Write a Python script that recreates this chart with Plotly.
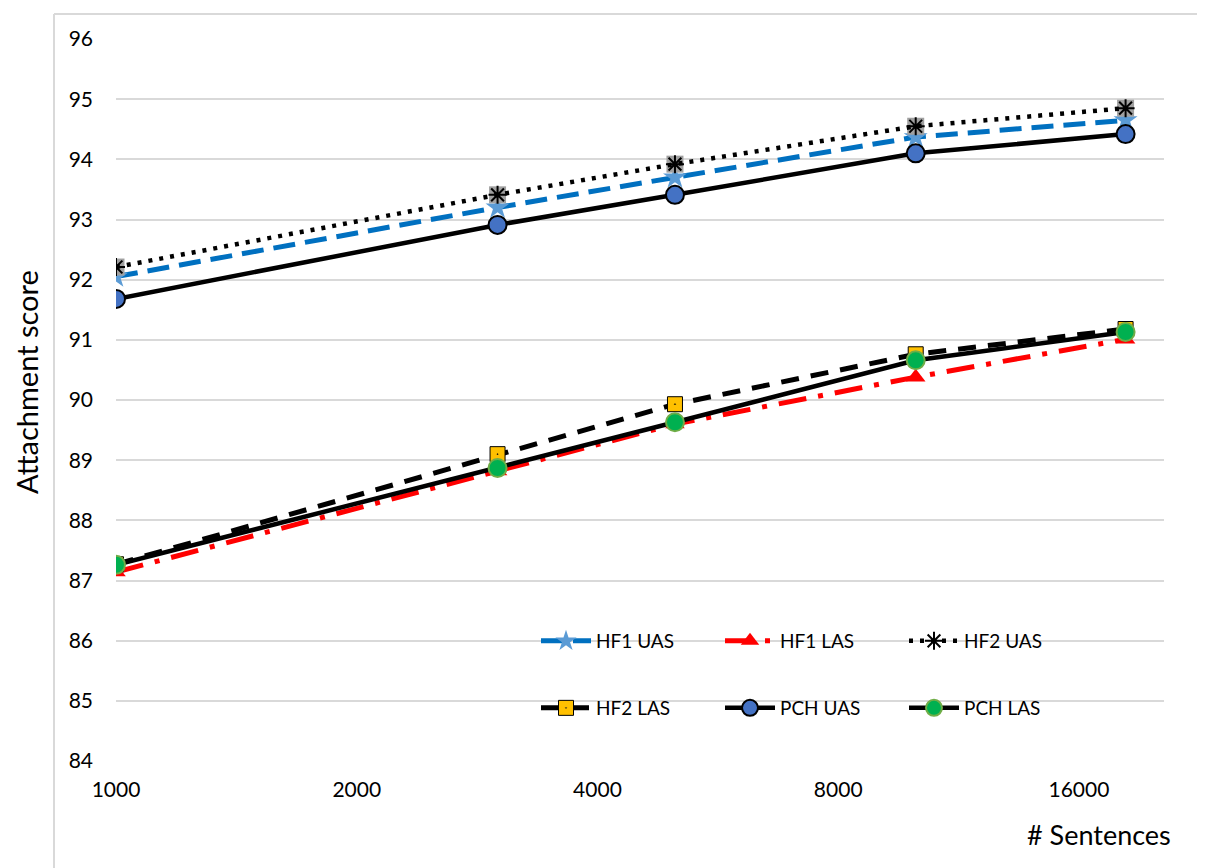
import numpy as np
import plotly.graph_objects as go

sentences = [1000, 3000, 5000, 10000, 18300]
hf1_uas = [92.05, 93.2, 93.7, 94.37, 94.65]
hf1_las = [87.14, 88.82, 89.6, 90.38, 91.01]
hf2_uas = [92.21, 93.41, 93.92, 94.55, 94.85]
hf2_las = [87.27, 89.1, 89.93, 90.76, 91.18]
pch_uas = [91.68, 92.91, 93.41, 94.1, 94.42]
pch_las = [87.26, 88.87, 89.63, 90.66, 91.13]
x_ticks = [1000, 2000, 4000, 8000, 16000]
y_ticks = list(range(84, 97))

FONT = "Lato"
fig = go.Figure()

fig.add_trace(go.Scatter(x=sentences, y=hf1_uas, name="HF1 UAS", mode="lines+markers",
                         line=dict(color="#0070C0", width=5, dash="22px,10px"),
                         marker=dict(symbol="star", size=18, color="#5B9BD5", line=dict(width=0)),
                         legend="legend"))
fig.add_trace(go.Scatter(x=sentences, y=hf1_las, name="HF1 LAS", mode="lines+markers",
                         line=dict(color="#FF0000", width=5, dash="28px,12px,5px,12px"),
                         marker=dict(symbol="triangle-up", size=17, color="#FF0000", line=dict(width=0)),
                         legend="legend"))
fig.add_trace(go.Scatter(x=sentences, y=hf2_uas, name="HF2 UAS bg", mode="markers", showlegend=False,
                         marker=dict(symbol="square", size=17, color="#A0A0A0",
                                     line=dict(width=0)),
                         hoverinfo="skip"))
fig.add_trace(go.Scatter(x=sentences, y=hf2_uas, name="HF2 UAS", mode="lines+markers",
                         line=dict(color="#000000", width=4.5, dash="4px,7px"),
                         marker=dict(symbol="asterisk-open", size=15, color="#000000",
                                     line=dict(width=2, color="#000000")),
                         legend="legend"))
fig.add_trace(go.Scatter(x=sentences, y=hf2_las, name="HF2 LAS", mode="lines+markers",
                         line=dict(color="#000000", width=5, dash="18px,12px"),
                         marker=dict(symbol="square-dot", size=15, color="#FFC000",
                                     line=dict(width=1, color="#000000")),
                         legend="legend2"))
fig.add_trace(go.Scatter(x=sentences, y=pch_uas, name="PCH UAS", mode="lines+markers",
                         line=dict(color="#000000", width=4.5),
                         marker=dict(symbol="circle", size=18, color="#4472C4",
                                     line=dict(width=2, color="#000000")),
                         legend="legend2"))
fig.add_trace(go.Scatter(x=sentences, y=pch_las, name="PCH LAS", mode="lines+markers",
                         line=dict(color="#000000", width=4.5),
                         marker=dict(symbol="circle", size=18, color="#00B050",
                                     line=dict(width=2, color="#70AD47")),
                         legend="legend2"))

W, H = 1205, 868
OFF = 7  # page offset of the plot div
# target plot area in screenshot pixels: x 115..1163, y 38..760
L = 115 - OFF
T = 38 - OFF
R = W - (1163 - OFF)
B = H - (760 - OFF)
pw, ph = W - L - R, H - T - B

def px_x(p):
    return (p - OFF - L) / pw

def px_y(p):
    return (H - B - (p - OFF)) / ph

leg_common = dict(orientation="h", entrywidth=119, entrywidthmode="pixels",
                  font=dict(family=FONT, size=19, color="#000000"),
                  bgcolor="rgba(0,0,0,0)", xanchor="left", yanchor="middle",
                  itemwidth=50)

fig.update_layout(
    width=W, height=H,
    margin=dict(l=L, r=R, t=T, b=B),
    paper_bgcolor="white", plot_bgcolor="white",
    font=dict(family=FONT, color="#000000"),
    legend=dict(x=px_x(535), y=px_y(640), **leg_common),
    legend2=dict(x=px_x(535), y=px_y(707), **leg_common),
    xaxis=dict(type="log", range=[3, np.log10(20440)], tickvals=x_ticks,
               ticktext=[str(v) for v in x_ticks], showgrid=False, zeroline=False,
               showline=False, ticks="", ticklabelstandoff=14,
               tickfont=dict(family=FONT, size=21, color="#000000")),
    yaxis=dict(range=[84, 96], tickvals=y_ticks, showgrid=True, gridcolor="#D9D9D9",
               gridwidth=2, zeroline=False, showline=False, ticks="", ticklabelstandoff=22,
               tickfont=dict(family=FONT, size=21, color="#000000")),
    annotations=[
        dict(text="# Sentences", xref="paper", yref="paper", x=px_x(1172), y=px_y(833),
             xanchor="right", yanchor="middle", showarrow=False,
             font=dict(family=FONT, size=27, color="#000000")),
        dict(text="Attachment score", xref="paper", yref="paper", x=px_x(25), y=px_y(381),
             xanchor="center", yanchor="middle", textangle=-90, showarrow=False,
             font=dict(family=FONT, size=29, color="#000000")),
    ],
    shapes=[
        dict(type="line", xref="paper", yref="paper", x0=px_x(53), x1=px_x(1215),
             y0=px_y(13), y1=px_y(13), line=dict(color="#D9D9D9", width=2)),
        dict(type="line", xref="paper", yref="paper", x0=px_x(53), x1=px_x(53),
             y0=px_y(13), y1=px_y(880), line=dict(color="#D9D9D9", width=2)),
    ],
)

fig.write_html("out.html")
